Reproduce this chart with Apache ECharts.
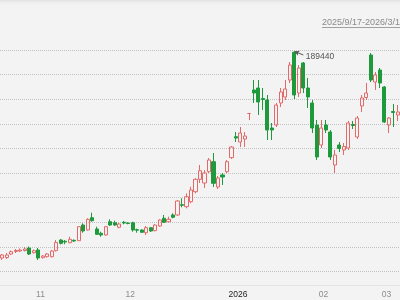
<!DOCTYPE html>
<html><head><meta charset="utf-8">
<script src="https://cdn.jsdelivr.net/npm/echarts@6/dist/echarts.min.js"></script>
<style>
html,body{margin:0;padding:0;background:#f3f3f3;}
#top{position:absolute;left:0;top:0;width:400px;height:5px;background:linear-gradient(#e2e2e2,#ebebeb 2px,#f3f3f3 5px);}
#c{position:absolute;left:0;top:0;width:400px;height:300px;}
</style></head>
<body><div id="top"></div><div id="c"></div>
<script>
var dates = ['2025/10/21','2025/10/22','2025/10/23','2025/10/24','2025/10/27','2025/10/28','2025/10/29','2025/10/30','2025/10/31',
'2025/11/3','2025/11/4','2025/11/5','2025/11/6','2025/11/7','2025/11/10','2025/11/11','2025/11/12','2025/11/13','2025/11/14','2025/11/17','2025/11/18','2025/11/19','2025/11/20','2025/11/21','2025/11/24','2025/11/25','2025/11/26','2025/11/27','2025/11/28',
'2025/12/1','2025/12/2','2025/12/3','2025/12/4','2025/12/5','2025/12/8','2025/12/9','2025/12/10','2025/12/11','2025/12/12','2025/12/15','2025/12/16','2025/12/17','2025/12/18','2025/12/19','2025/12/22','2025/12/23','2025/12/24','2025/12/25','2025/12/26','2025/12/29','2025/12/30','2025/12/31',
'2026/1/5','2026/1/6','2026/1/7','2026/1/8','2026/1/9','2026/1/12','2026/1/13','2026/1/14','2026/1/15','2026/1/16','2026/1/19','2026/1/20','2026/1/21','2026/1/22','2026/1/23','2026/1/26','2026/1/27','2026/1/28','2026/1/29','2026/1/30',
'2026/2/2','2026/2/3','2026/2/4','2026/2/5','2026/2/6','2026/2/9','2026/2/10','2026/2/11','2026/2/12','2026/2/13','2026/2/24','2026/2/25','2026/2/26','2026/2/27',
'2026/3/2','2026/3/3','2026/3/4'];

var opens = [105450,105650,107070,108090,108290,108500,109510,107600,108700,
105570,105980,105980,108420,112770,112240,111670,112640,112480,118860,116830,121830,117240,115490,114800,120200,119800,117930,119960,119630,
119800,116950,116830,115730,117760,116550,118460,121590,120200,122930,122930,127110,126300,128330,132400,137440,135940,140530,144590,134310,139190,140530,146220,
154760,152600,153820,164190,173740,174550,170280,169680,158290,159510,168460,170890,177810,189100,172520,184720,174550,168460,159510,151380,
159510,156670,143250,151380,149350,150160,159720,154630,167240,170690,187970,176990,181870,174960,
159510,165000,163580];

var closes = [106670,106670,108010,108500,108700,109110,107070,108420,105450,
106260,107070,108290,111750,111420,111950,113050,112360,118170,116420,121180,120610,115080,114800,118170,118860,118860,119270,119680,119470,
116830,116750,115900,117760,116420,118860,120900,119960,121180,121990,128620,126870,130370,133090,137440,140940,140000,145290,135810,137970,138370,144590,150570,
154230,156260,155040,164190,172520,168860,169880,157480,157480,167640,172930,174150,183900,171710,182680,174550,170890,158290,146500,158290,
157480,146500,147320,149960,150770,160330,159310,162360,170490,172520,177810,179840,176590,160730,
162360,164590,164800];

var lows = [104640,105040,106670,107480,107890,108090,106670,107280,104640,
105240,105650,105650,108090,110940,111020,111420,111950,112360,115730,116550,120200,114800,114110,114510,118460,118460,117520,119150,119150,
116140,115730,115730,114800,116020,116300,118170,119680,119960,121590,122640,126060,125650,127680,131750,135940,133900,140000,134310,133500,135120,140000,145690,
152600,150570,150570,161550,168460,163580,165610,153420,153420,158700,166830,169680,176590,170080,170890,172520,166420,156260,145290,150160,
156260,145290,140000,148540,147320,149350,157890,153820,164800,169680,176990,173740,174550,160330,
156260,158700,161140];

var highs = [107070,107480,108500,109110,109310,109920,110120,108900,109510,
106670,107480,108700,112770,113170,112770,114110,112970,118460,119550,121590,123860,118170,116140,118460,121180,120610,119800,120490,119960,
120200,117360,117110,118460,118050,119150,121180,122930,122240,123620,129030,129720,131750,134430,137850,143250,141220,146100,148130,138780,140000,145290,150980,
156670,158700,156670,164190,177810,177810,174550,171710,160330,168460,174550,177810,185120,189440,183900,185120,178620,169680,161550,161550,
161550,157480,149350,152600,152200,161140,161140,163170,171710,176590,188780,181060,182680,175370,
162760,168050,167640];

var yTicks = [100000, 190000, 10000]; // min, max, interval
var rangeText = '2025/9/17-2026/3/19';
var peak = {date: '2026/1/22', value: 189440, labelDate: '2026/1/26', labelValue: 187970};

var candles = dates.map(function (d, i) { return [opens[i], closes[i], lows[i], highs[i]]; });

var FONT = '"Liberation Sans", Arial, sans-serif';
var chart = echarts.init(document.getElementById('c'), null, {renderer: 'canvas'});
chart.setOption({
  animation: false,
  backgroundColor: 'transparent',
  grid: {left: -3.31, width: 404.06, top: 50, bottom: 28.6, containLabel: false},
  xAxis: {
    type: 'category', data: dates, boundaryGap: true, offset: 13.6,
    axisLine: {show: true, lineStyle: {color: '#e4e4e4', width: 1}},
    axisTick: {show: false},
    splitLine: {show: false},
    axisLabel: {
      margin: 5,
      interval: function (idx, val) {
        if (idx === 0) return false;
        return val.split('/')[1] !== dates[idx - 1].split('/')[1];
      },
      formatter: function (val) {
        var p = val.split('/');
        if (p[1] === '1') return '{y|' + p[0] + '}';
        return '{m|' + (p[1].length < 2 ? '0' + p[1] : p[1]) + '}';
      },
      rich: {
        m: {color: '#8c8c8c', fontSize: 8.5, fontFamily: FONT, padding: [0, 4.5, 0, 0]},
        y: {color: '#222222', fontSize: 8.5, fontFamily: FONT, padding: [0, 0, 0, 4]}
      }
    }
  },
  yAxis: {
    type: 'value', min: yTicks[0], max: yTicks[1], interval: yTicks[2], scale: false,
    axisLine: {show: false}, axisTick: {show: false}, axisLabel: {show: false},
    splitLine: {show: true, lineStyle: {type: 'dotted', color: '#c2c2c2', width: 1}}
  },
  series: [{
    type: 'candlestick',
    data: candles,
    barWidth: '80%',
    itemStyle: {
      color: 'transparent', color0: '#1e9a3c',
      borderColor: '#e46a6a', borderColor0: '#1e9a3c', borderWidth: 1
    },
    markLine: {
      silent: true, animation: false,
      symbol: ['arrow', 'none'], symbolSize: [4, 5],
      lineStyle: {color: '#555', width: 1, type: 'solid'},
      label: {show: false},
      data: [[{coord: [peak.date, peak.value]}, {coord: [peak.labelDate, peak.labelValue]}]]
    },
    markPoint: {
      silent: true, animation: false,
      symbol: 'circle', symbolSize: 1,
      itemStyle: {color: 'rgba(0,0,0,0)'},
      label: {show: true, position: 'right', distance: 2, offset: [0, 2],
        color: '#555', fontSize: 8.5, fontFamily: FONT, formatter: String(peak.value)},
      data: [{coord: [peak.labelDate, peak.labelValue], value: peak.value}]
    }
  }],
  graphic: [
    {type: 'text', x: 322, y: 23, silent: true,
      style: {text: rangeText, fill: '#8a8a8a', font: '9px ' + FONT, align: 'left', verticalAlign: 'middle'}},
    {type: 'line', silent: true, shape: {x1: 322, y1: 27.5, x2: 412, y2: 27.5},
      style: {stroke: '#a0a0a0', lineWidth: 1}}
  ]
});
</script>
</body></html>
